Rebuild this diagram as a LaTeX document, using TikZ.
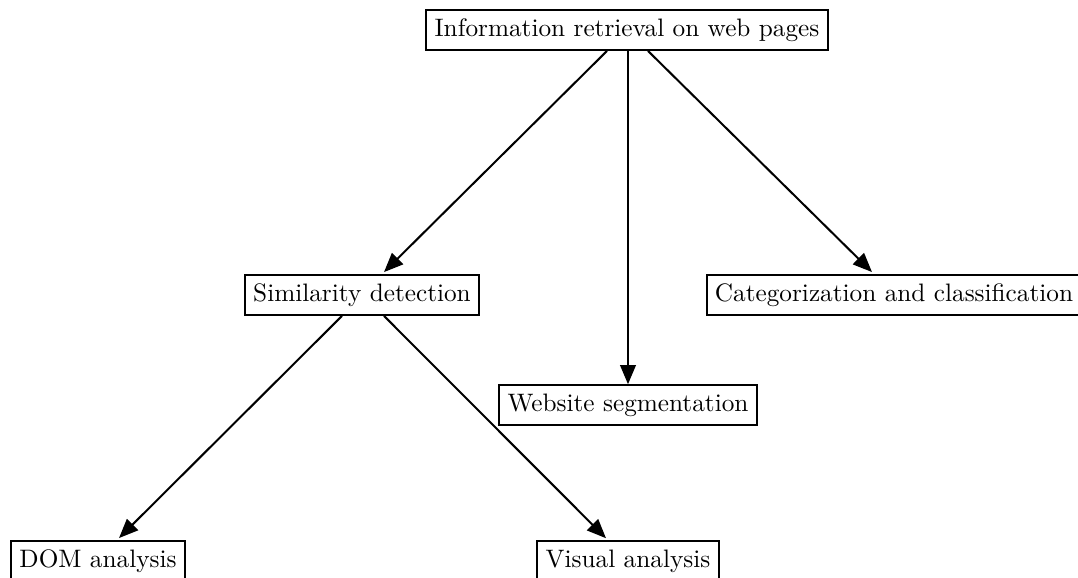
\documentclass[tikz,border=0pt]{standalone}
\usetikzlibrary{arrows.meta,calc}
\begin{document}
\begin{tikzpicture}[x=0.396pt,y=-0.396pt,
  box/.style={draw,thick,inner sep=3.333pt},
  arr/.style={thick,-{Triangle[length=7.6pt,width=6.2pt]}}]
\useasboundingbox (0,0) rectangle (1078,578);
\node[box] (top) at (627,30) {Information retrieval on web pages};
\node[box] (sim) at (362,295) {Similarity detection};
\node[box] (cat) at (894,295) {Categorization and classification};
\node[box] (seg) at (628,405) {Website segmentation};
\node[box] (dom) at (98,561) {DOM analysis};
\node[box] (vis) at (628,561) {Visual analysis};
\draw[arr] ($(top.south)+(-20,0)$) -- ($(sim.north)+(22,-2)$);
\draw[arr] ($(top.south)+(1,0)$) -- (seg.north);
\draw[arr] ($(top.south)+(21,0)$) -- ($(cat.north)+(-22,-2)$);
\draw[arr] ($(sim.south)+(-20,0)$) -- ($(dom.north)+(21,-2)$);
\draw[arr] ($(sim.south)+(22,0)$) -- ($(vis.north)+(-22,-2)$);
\end{tikzpicture}
\end{document}
